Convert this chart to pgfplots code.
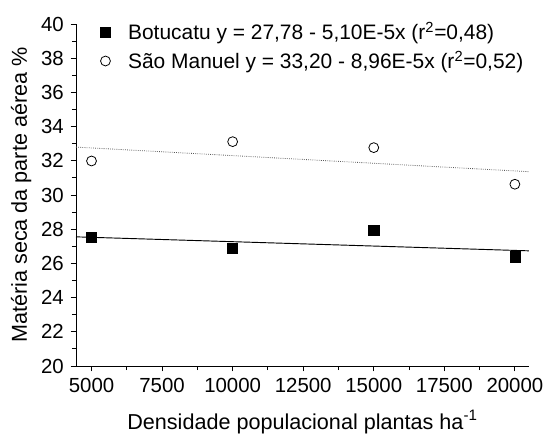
\documentclass[border=0pt]{standalone}
\usepackage{pgfplots}
\pgfplotsset{compat=1.18}
\usepackage{fontspec}
\setmainfont{Liberation Sans}
\pgfplotsset{
  common/.style={
    at={(0,0)}, anchor=south west,
    scale only axis,
    width=339.75pt, height=256.5pt,
    xmin=4450, xmax=20500,
    ymin=20, ymax=40,
    legend style={anchor=west, draw=none, fill=none, inner xsep=0pt, inner ysep=0pt, outer sep=0pt,
      font=\fontsize{15.7}{18}\selectfont},
    legend cell align=left,
    legend image code/.code={\draw[##1] plot coordinates {(0pt,0pt)}; \path[draw=none] (-4pt,0pt) (15pt,0pt);},
  }
}
\begin{document}
\fontsize{15}{18}\selectfont
\begin{tikzpicture}
\useasboundingbox (-57pt,-53.25pt) rectangle (351pt,274.5pt);
\begin{axis}[
  common,
  xtick={5000,7500,...,20000},
  ytick={20,22,...,40},
  minor x tick num=1,
  minor y tick num=1,
  axis x line*=bottom, axis y line*=left,
  axis line style={-},
  tick align=outside,
  major tick length=4pt, minor tick length=3pt,
  tick style={black, line width=0.7pt},
  axis line style={line width=0.7pt},
  scaled ticks=false,
  /pgf/number format/fixed,
  /pgf/number format/1000 sep={},
  /pgf/number format/assume math mode=true,
  tick label style={font=\fontsize{15.3}{18}\selectfont},
  label style={font=\fontsize{16.2}{19}\selectfont},
  xlabel={Densidade populacional plantas ha\textsuperscript{-1}},
  ylabel={Matéria seca da parte aérea \%},
  xlabel style={yshift=-3pt},
  ylabel style={yshift=-3pt},
  legend style={at={(0.0533,0.9766)}},
]
\addplot[only marks, mark=square*, mark size=3.8pt, black] coordinates {
  (5000,27.54) (10000,26.88) (15000,27.94) (20000,26.39)};
\addlegendentry{Botucatu y = 27,78 - 5,10E-5x (r\textsuperscript{2}=0,48)}
\addplot[black, line width=0.7pt, forget plot] coordinates {(4450,27.553) (20500,26.7345)};
\addplot[gray!70!black, line width=0.6pt, densely dotted, forget plot] coordinates {(4450,32.8013) (20500,31.3632)};
\end{axis}
\begin{axis}[
  common,
  hide axis,
  legend style={at={(0.0533,0.8918)}},
]
\addplot[only marks, mark=o, mark size=3.7pt, black, mark options={line width=0.6pt}] coordinates {
  (5000,31.99) (10000,33.12) (15000,32.77) (20000,30.63)};
\addlegendentry{São Manuel y = 33,20 - 8,96E-5x (r\textsuperscript{2}=0,52)}
\end{axis}
\end{tikzpicture}
\end{document}
